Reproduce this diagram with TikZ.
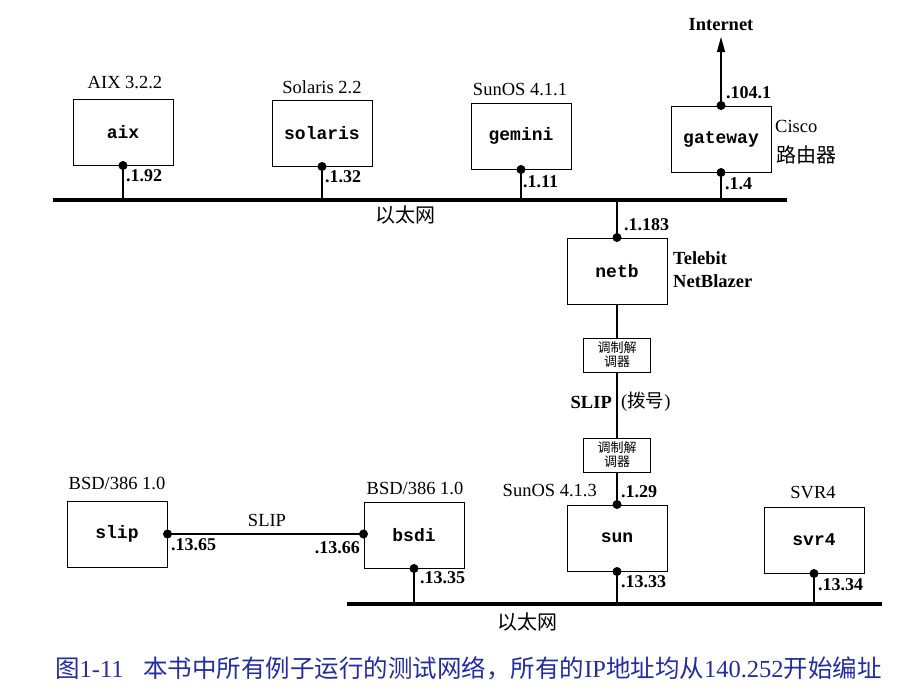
\documentclass[tikz,border=0pt]{standalone}
\usepackage{fontspec}
\setmainfont{Liberation Serif}
\setmonofont{Liberation Mono}
\newfontfamily\cjk{Noto Sans CJK SC}
\usetikzlibrary{arrows.meta}
\definecolor{capblue}{RGB}{35,45,160}
\begin{document}
\begin{tikzpicture}[x=1pt,y=-1pt,
 host/.style={draw,line width=1pt,minimum width=100pt,minimum height=66pt,inner sep=0pt,font=\fontsize{18}{18}\selectfont\ttfamily\bfseries},
 modem/.style={draw,line width=0.9pt,minimum width=67pt,minimum height=34pt,inner sep=0pt,align=center,font=\fontsize{13}{14}\selectfont\cjk},
 dot/.style={circle,fill,inner sep=0pt,minimum size=9pt},
 ip/.style={inner sep=0pt,font=\fontsize{18}{18}\selectfont\bfseries},
 os/.style={inner sep=0pt,font=\fontsize{18.5}{18.5}\selectfont},
 osb/.style={os,font=\fontsize{18.5}{18.5}\selectfont\bfseries},
 zh/.style={inner sep=0pt,font=\fontsize{20}{20}\selectfont\cjk},
 eth/.style={line width=3.5pt},
 wire/.style={line width=1.2pt}]
\useasboundingbox (0,0) rectangle (923,694);
% ethernets
\coordinate (e1l) at (53,200);
\coordinate (e1r) at (787,200);
\coordinate (e2l) at (347,604);
\coordinate (e2r) at (882,604);
\draw[eth] (e1l) -- (e1r);
\draw[eth] (e2l) -- (e2r);
% hosts
\node[host] (aix) at (123,132) {aix};
\node[host] (solaris) at (322,133) {solaris};
\node[host] (gemini) at (521,136) {gemini};
\node[host] (gateway) at (721,139) {gateway};
\node[host] (netb) at (617,271) {netb};
\node[modem] (m1) at (617,355) {调制解\\调器};
\node[modem] (m2) at (617,455) {调制解\\调器};
\node[host] (sun) at (617,538) {sun};
\node[host] (svr4) at (814,540) {svr4};
\node[host] (slip) at (117,534) {slip};
\node[host] (bsdi) at (414,535) {bsdi};
% wires
\coordinate (inet) at (721,37);
\draw[wire] (aix.south) -- (aix.south |- e1l);
\draw[wire] (solaris.south) -- (solaris.south |- e1l);
\draw[wire] (gemini.south) -- (gemini.south |- e1l);
\draw[wire] (gateway.south) -- (gateway.south |- e1l);
\draw[wire] (netb.north |- e1l) -- (netb.north);
\draw[wire,-{Triangle[length=15pt,width=8pt]}] (gateway.north) -- (inet);
\draw[wire] (netb.south) -- (m1.north);
\draw[wire] (m1.south) -- (m2.north);
\draw[wire] (m2.south) -- (sun.north);
\draw[wire] (sun.south) -- (sun.south |- e2l);
\draw[wire] (svr4.south) -- (svr4.south |- e2l);
\draw[wire] (bsdi.south) -- (bsdi.south |- e2l);
\draw[wire] (slip.east) -- (bsdi.west |- slip.east);
% dots
\node[dot] (d1) at (aix.south) {};
\node[dot] (d2) at (solaris.south) {};
\node[dot] (d3) at (gemini.south) {};
\node[dot] (d4) at (gateway.south) {};
\node[dot] (d5) at (gateway.north) {};
\node[dot] (d6) at (netb.north) {};
\node[dot] (d7) at (sun.north) {};
\node[dot] (d8) at (sun.south) {};
\node[dot] (d9) at (svr4.south) {};
\node[dot] (d10) at (bsdi.south) {};
\node[dot] (d11) at (slip.east) {};
\node[dot] (d12) at (bsdi.west |- slip.east) {};
% os labels
\node[os] (laix) at (125,83) {AIX 3.2.2};
\node[os] (lsol) at (322,87) {Solaris 2.2};
\node[os] (lgem) at (520,90) {SunOS 4.1.1};
\node[osb] (linet) at (721,25) {Internet};
\node[os,anchor=west] (lcisco) at (775,126) {Cisco};
\node[zh,anchor=west] (lrouter) at (776,155) {路由器};
\node[osb,anchor=west] (ltele) at (673,258) {Telebit};
\node[osb,anchor=west] (lnetbl) at (673,281) {NetBlazer};
\node[osb,anchor=east] (lslip1) at (612,402) {SLIP};
\node[os,anchor=west] (ldial) at (621,402) {(\cjk 拨号\rmfamily)};
\node[os,anchor=east] (lsun) at (597,490) {SunOS 4.1.3};
\node[os] (lsvr) at (813,493) {SVR4};
\node[os] (lbsd1) at (117,483) {BSD/386 1.0};
\node[os] (lbsd2) at (415,488) {BSD/386 1.0};
\node[os] (lslip2) at (267,520) {SLIP};
\node[zh] (leth1) at (405,215) {以太网};
\node[zh] (leth2) at (527,622) {以太网};
% ip labels
\node[ip,anchor=west] (i1) at (126,176) {.1.92};
\node[ip,anchor=west] (i2) at (325,177) {.1.32};
\node[ip,anchor=west] (i3) at (523,182) {.1.11};
\node[ip,anchor=west] (i4) at (725,184) {.1.4};
\node[ip,anchor=west] (i5) at (726,93) {.104.1};
\node[ip,anchor=west] (i6) at (624,225) {.1.183};
\node[ip,anchor=west] (i7) at (621,492) {.1.29};
\node[ip,anchor=west] (i8) at (621,582) {.13.33};
\node[ip,anchor=west] (i9) at (818,585) {.13.34};
\node[ip,anchor=west] (i10) at (420,578) {.13.35};
\node[ip,anchor=west] (i11) at (171,545) {.13.65};
\node[ip,anchor=east] (i12) at (360,548) {.13.66};
% caption
\node[anchor=west,inner sep=0pt,text=capblue,font=\fontsize{24.5}{24.5}\selectfont] (cap) at (55,668) {{\cjk 图}1-11\hspace{0.8em}{\cjk 本书中所有例子运行的测试网络，所有的}IP{\cjk 地址均从}140.252{\cjk 开始编址}};
\end{tikzpicture}
\end{document}
